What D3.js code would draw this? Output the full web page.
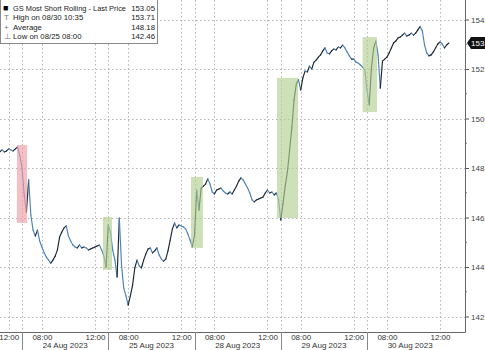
<!DOCTYPE html>
<html>
<head>
<meta charset="utf-8">
<script src="https://cdn.jsdelivr.net/npm/d3@7"></script>
<style>
  body { margin: 0; background: #fff; }
  svg { display: block; font-family: "Liberation Sans", Arial, sans-serif; }
</style>
</head>
<body>
<div id="chart"></div>
<script>
// trading days shown, session 06:30 - 13:00, 10 minute bars
const days = ["23 Aug 2023", "24 Aug 2023", "25 Aug 2023", "28 Aug 2023", "29 Aug 2023", "30 Aug 2023"];
const firstBar = ["11:20", "06:30", "06:30", "06:30", "06:30", "06:30"];

const day23 = [148.65, 148.73, 148.65, 148.69, 148.77, 148.73, 148.69, 148.77, 148.85, 148.50];
const day24 = [148.00, 146.91, 146.22, 147.52, 146.10, 145.49, 145.25, 145.49, 145.05, 144.81,
  144.57, 144.40, 144.28, 144.16, 144.28, 144.44, 144.69, 145.21, 145.41, 145.58,
  145.66, 145.25, 145.05, 144.89, 144.81, 144.77, 144.89, 144.77, 144.81, 144.77,
  144.69, 144.73, 144.77, 144.81, 144.85, 144.89, 144.69, 144.44, 143.99];
const day25 = [145.70, 145.41, 144.69, 144.28, 143.60, 145.98, 144.08, 143.15, 142.83, 142.46,
  142.83, 143.27, 143.96, 144.28, 144.04, 143.96, 144.28, 144.53, 144.73, 144.77,
  144.57, 144.65, 144.77, 144.49, 144.32, 144.24, 144.32, 144.65, 145.09, 145.54,
  145.78, 145.58, 145.70, 145.66, 145.62, 145.54, 145.33, 145.09, 144.81];
const day28 = [145.29, 147.11, 146.30, 147.19, 147.27, 147.35, 147.56, 147.35, 147.03, 146.95,
  147.11, 147.15, 147.19, 147.07, 146.99, 146.95, 147.03, 146.95, 147.11, 147.27,
  147.47, 147.60, 147.52, 147.35, 147.19, 146.99, 146.71, 146.63, 146.71, 146.75,
  146.79, 146.83, 146.99, 147.11, 146.99, 147.03, 146.91, 146.99, 146.71];
const day29 = [145.90, 146.55, 147.27, 147.84, 148.73, 149.62, 150.75, 151.39, 151.56, 151.15,
  151.64, 151.92, 151.88, 152.12, 152.00, 152.28, 152.36, 152.48, 152.57, 152.73,
  152.85, 152.65, 152.61, 152.73, 152.81, 152.77, 152.89, 152.85, 152.97, 152.85,
  152.69, 152.53, 152.40, 152.40, 152.28, 152.24, 152.16, 152.08, 151.96];
const day30 = [151.15, 150.55, 152.04, 152.85, 153.13, 152.57, 151.23, 152.32, 152.40, 152.48,
  152.65, 152.85, 153.05, 153.13, 153.25, 153.29, 153.37, 153.45, 153.33, 153.37,
  153.45, 153.37, 153.45, 153.58, 153.71, 153.54, 152.97, 152.65, 152.53, 152.57,
  152.69, 152.85, 153.01, 153.09, 153.01, 152.85, 152.97, 153.05];
const dayPrices = [day23, day24, day25, day28, day29, day30];

const yTicks = [142, 144, 146, 148, 150, 152, 154];
const yMinorTicks = [143, 145, 147, 149, 151, 153];
const hourTicks = ["08:00", "12:00"];

// shaded windows: [day index, time] -> [day index, time], price range
const boxes = [
  { from: [0, "12:37"], to: [1, "06:53"], lo: 145.78, hi: 148.93, color: "#ef9ca8" },
  { from: [1, "12:36"], to: [2, "06:47"], lo: 143.88, hi: 146.02, color: "#b3cf92" },
  { from: [2, "12:44"], to: [3, "07:08"], lo: 144.77, hi: 147.64, color: "#b3cf92" },
  { from: [3, "12:43"], to: [4, "07:48"], lo: 145.98, hi: 151.64, color: "#b3cf92" },
  { from: [4, "12:40"], to: [5, "07:15"], lo: 150.26, hi: 153.29, color: "#b3cf92" }
];

const legendLabels = ["GS Most Short Rolling - Last Price", "High on 08/30 10:35", "Average", "Low on 08/25 08:00"];
const legendIcons = ["\u25A0", "T", "+", "\u22A5"];
const legendValues = [153.05, 153.71, 148.18, 142.46];
const lastPrice = 153.05;

const width = 485, height = 350;
const plotRight = 465, plotBottom = 332;

const svg = d3.select("#chart").append("svg")
  .attr("width", width)
  .attr("height", height);

// minutes of trading since 23 Aug open, gaps removed
function tpos(dayIdx, hm) {
  const [h, m] = hm.split(":").map(Number);
  return dayIdx * 390 + h * 60 + m - 390;
}

let series = [];
dayPrices.forEach((arr, di) => {
  let start = tpos(di, firstBar[di]);
  arr.forEach((p, i) => series.push({ t: start + i * 10, v: p }));
});

const x = d3.scaleLinear().domain([290.5, 2393]).range([0, plotRight]);
const y = d3.scaleLinear().domain([142, 154]).range([316.5, 19.5]);

svg.append("defs").append("clipPath").attr("id", "plot")
  .append("rect").attr("x", 0).attr("y", 0).attr("width", plotRight).attr("height", plotBottom);

// horizontal grid
svg.append("g")
  .selectAll("line")
  .data(yTicks)
  .join("line")
  .attr("x1", 0).attr("x2", plotRight)
  .attr("y1", d => Math.round(y(d)) + 0.5).attr("y2", d => Math.round(y(d)) + 0.5)
  .attr("stroke", "#b5b5b5")
  .attr("stroke-dasharray", "1.5,2.5");

// vertical grid: day boundaries, 08:00 and 12:00
let vGrid = [];
days.forEach((d, di) => {
  if (di > 0) vGrid.push(tpos(di, "06:30"));
  hourTicks.forEach(h => vGrid.push(tpos(di, h)));
});
svg.append("g")
  .selectAll("line")
  .data(vGrid)
  .join("line")
  .attr("x1", d => Math.round(x(d)) + 0.5).attr("x2", d => Math.round(x(d)) + 0.5)
  .attr("y1", 0).attr("y2", plotBottom)
  .attr("stroke", "#b5b5b5")
  .attr("stroke-dasharray", "1.5,2.5");

// price line, dark when rising, blue when falling
let pairs = d3.pairs(series);
svg.append("g")
  .attr("clip-path", "url(#plot)")
  .selectAll("line")
  .data(pairs)
  .join("line")
  .attr("x1", d => x(d[0].t)).attr("y1", d => y(d[0].v))
  .attr("x2", d => x(d[1].t)).attr("y2", d => y(d[1].v))
  .attr("stroke", d => d[1].v < d[0].v ? "#4a82b8" : "#1b2633")
  .attr("stroke-width", 1.15)
  .attr("stroke-linecap", "round");

// shaded boxes
svg.append("g")
  .selectAll("rect")
  .data(boxes)
  .join("rect")
  .attr("x", d => x(tpos(d.from[0], d.from[1])))
  .attr("width", d => x(tpos(d.to[0], d.to[1])) - x(tpos(d.from[0], d.from[1])))
  .attr("y", d => y(d.hi))
  .attr("height", d => y(d.lo) - y(d.hi))
  .attr("fill", d => d.color)
  .attr("opacity", 0.65);

// right axis
const yAxis = svg.append("g")
  .attr("transform", `translate(${plotRight},0)`)
  .call(d3.axisRight(y).tickValues(yTicks).tickFormat(d3.format(".2f")).tickSize(4).tickPadding(2));
yAxis.select(".domain").remove();
yAxis.selectAll("text").attr("font-size", 8).attr("fill", "#444").attr("font-family", "Liberation Sans, Arial, sans-serif");
yAxis.selectAll("line").attr("stroke", "#555");

svg.append("g")
  .selectAll("line")
  .data(yMinorTicks)
  .join("line")
  .attr("x1", plotRight).attr("x2", plotRight + 2)
  .attr("y1", d => y(d)).attr("y2", d => y(d))
  .attr("stroke", "#777");

svg.append("line")
  .attr("x1", plotRight + 0.5).attr("x2", plotRight + 0.5)
  .attr("y1", 0).attr("y2", plotBottom + 0.5)
  .attr("stroke", "#666");

// last price marker
let ly = y(lastPrice);
svg.append("path")
  .attr("d", `M${plotRight + 2},${ly} L${plotRight + 6},${ly - 6} L${width + 2},${ly - 6} L${width + 2},${ly + 6} L${plotRight + 6},${ly + 6} Z`)
  .attr("fill", "#111");
svg.append("text")
  .attr("x", plotRight + 6).attr("y", ly + 3)
  .attr("font-size", 8).attr("fill", "#fff")
  .text(lastPrice.toFixed(2));

// bottom axis
svg.append("line")
  .attr("x1", 0).attr("x2", plotRight + 0.5)
  .attr("y1", plotBottom + 0.5).attr("y2", plotBottom + 0.5)
  .attr("stroke", "#666");

let hourLabels = [];
days.forEach((d, di) => hourTicks.forEach(h => hourLabels.push({ t: tpos(di, h), label: h })));
hourLabels = hourLabels.filter(d => x(d.t) > 0);

const xAxis = svg.append("g")
  .attr("transform", `translate(0,${plotBottom})`)
  .call(d3.axisBottom(x)
    .tickValues(hourLabels.map(d => d.t))
    .tickFormat((d, i) => hourLabels[i].label)
    .tickSize(0).tickPadding(2));
xAxis.select(".domain").remove();
xAxis.selectAll("text").attr("font-size", 8).attr("fill", "#333").attr("font-family", "Liberation Sans, Arial, sans-serif");

// day separators
svg.append("g")
  .selectAll("line")
  .data(days.slice(1))
  .join("line")
  .attr("x1", (d, i) => Math.round(x(tpos(i + 1, "06:30"))) + 0.5)
  .attr("x2", (d, i) => Math.round(x(tpos(i + 1, "06:30"))) + 0.5)
  .attr("y1", plotBottom).attr("y2", height)
  .attr("stroke", "#888");

svg.append("g")
  .selectAll("text")
  .data(days.slice(1))
  .join("text")
  .attr("x", (d, i) => x(tpos(i + 1, "09:45")))
  .attr("y", 348)
  .attr("text-anchor", "middle")
  .attr("font-size", 8)
  .attr("fill", "#333")
  .text(d => d);

// legend
const legend = svg.append("g");
legend.append("rect")
  .attr("x", 0.5).attr("y", -1).attr("width", 157).attr("height", 44.5)
  .attr("fill", "#fff").attr("stroke", "#8a8a8a");
legendLabels.forEach((lab, i) => {
  let yy = 10.5 + i * 9.5;
  legend.append("text").attr("x", i === 0 ? 3 : 4).attr("y", yy)
    .attr("font-size", i === 0 ? 9 : 8).attr("fill", i === 0 ? "#000" : "#777")
    .text(legendIcons[i]);
  let t = legend.append("text").attr("x", 13).attr("y", yy)
    .attr("font-size", i === 0 ? 7.6 : 7.8).attr("fill", "#222")
    .text(lab);
  if (i === 0) t.attr("textLength", 113).attr("lengthAdjust", "spacingAndGlyphs");
  legend.append("text").attr("x", 155).attr("y", yy)
    .attr("text-anchor", "end")
    .attr("font-size", 7.8).attr("fill", "#222")
    .text(legendValues[i].toFixed(2));
});
</script>
</body>
</html>
